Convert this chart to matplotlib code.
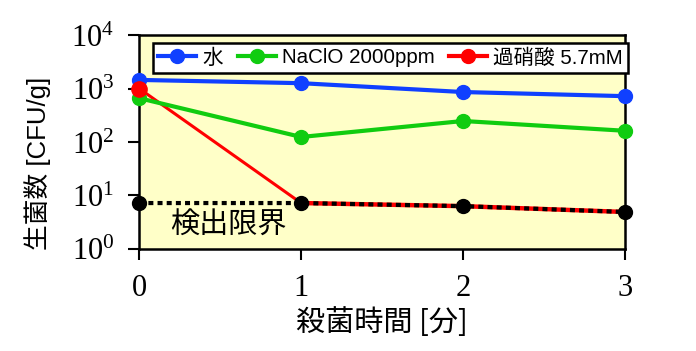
import matplotlib
matplotlib.use("Agg")
import matplotlib.pyplot as plt
from matplotlib.ticker import FuncFormatter
import numpy as np

# Datos
tiempo = [0, 1, 2, 3]
agua = [1450, 1260, 860, 720]
naclo = [660, 124, 247, 162]
acido = [1000, 7.2, 6.3, 4.9]
limite = [7.2, 7.2, 6.3, 4.9]
etiquetas = ["水", "NaClO 2000ppm", "過硝酸 5.7mM"]

plt.rcParams["mathtext.fontset"] = "custom"
plt.rcParams["mathtext.rm"] = "Liberation Serif"
plt.rcParams["mathtext.it"] = "Liberation Serif"
jp = ["Noto Sans CJK JP", "DejaVu Sans"]
mix = ["Liberation Sans", "Noto Sans CJK JP"]

fig = plt.figure(figsize=(6.96, 3.51), dpi=100)
ax = fig.add_axes([0.2, 0.291, 0.698, 0.609])
ax.set_facecolor("#FFFFC8")

ax.plot(tiempo, agua, "-o", color="#1040FF", lw=3, ms=10, label=etiquetas[0], zorder=3, clip_on=False)
ax.plot(tiempo, naclo, "-o", color="#10CC10", lw=3, ms=10, label=etiquetas[1], zorder=3, clip_on=False)
ax.plot(tiempo[:2], acido[:2], "-", color="#FF0000", lw=2.2, zorder=2)
ax.plot(tiempo[1:], acido[1:], "-", color="#FF0000", lw=3.2, zorder=2)
ax.plot(tiempo, limite, color="black", lw=3, dashes=(1.2, 1.0), zorder=4)
ax.plot(tiempo, limite, "o", color="black", ms=10, zorder=5, clip_on=False)
ax.plot(tiempo[0], acido[0], "o", color="#FF0000", ms=11, zorder=6, clip_on=False)
# entrada de leyenda para el ácido
ax.plot([], [], "-o", color="#FF0000", lw=3, ms=10, label=etiquetas[2])

ax.set_yscale("log")
ax.set_ylim(1, 1e4)
ax.set_xlim(0, 3)
ax.set_xticks(tiempo)
ax.set_yticks([1, 10, 100, 1000, 10000])
ax.minorticks_off()
ax.yaxis.set_major_formatter(FuncFormatter(lambda v, p: r"$\mathrm{10^{%d}}$" % round(np.log10(v))))
ax.tick_params(direction="out", length=8, width=1.5, labelsize=22, pad=10)
for lbl in ax.get_xticklabels():
    lbl.set_fontfamily("Liberation Serif")
for s in ax.spines.values():
    s.set_linewidth(1.8)

ax.set_xlabel("殺菌時間 [分]", fontsize=21, family=jp, labelpad=4)
fig.text(38 / 696, 1 - 163 / 351, "生菌数 [CFU/g]", rotation=90, fontsize=18.5,
         family=mix, ha="center", va="center")
ax.text(0.19, 2.7, "検出限界", fontsize=21, family=jp, va="center")

leg = ax.legend(loc="upper left", bbox_to_anchor=(0.029, 0.963), borderaxespad=0,
                ncol=3, fancybox=False, edgecolor="black", framealpha=1,
                handlelength=1.85, columnspacing=0.7, handletextpad=0.3,
                borderpad=0.25, prop={"family": mix, "size": 14.8})
leg.get_frame().set_linewidth(1.8)

fig.savefig("out.png", dpi=100)
